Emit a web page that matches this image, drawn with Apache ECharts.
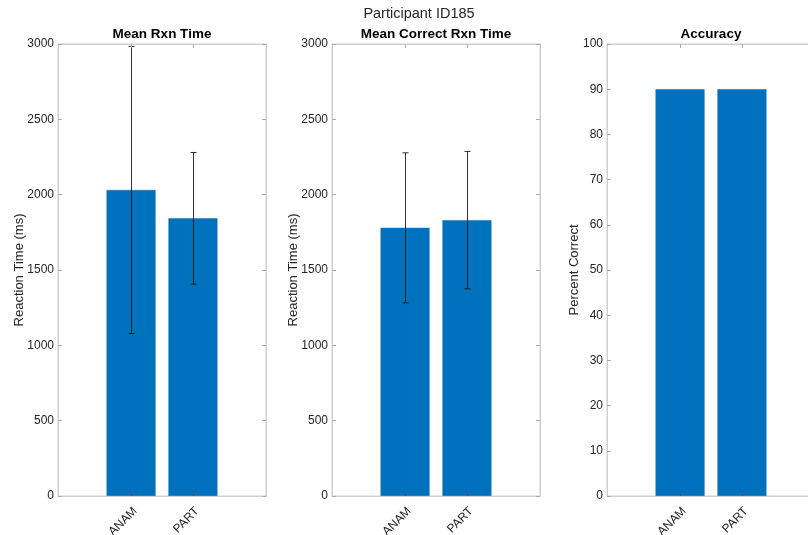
<!DOCTYPE html>
<html>
<head>
<meta charset="utf-8">
<script src="https://cdn.jsdelivr.net/npm/echarts@6/dist/echarts.min.js"></script>
<style>html,body{margin:0;padding:0;background:#fff}#c{width:808px;height:535px}</style>
</head>
<body>
<div id="c"></div>
<script>
const categories = ['ANAM', 'PART'];
const meanRxn = [2031, 1843];
const meanRxnErr = [953, 437];
const meanCorrect = [1780, 1831];
const meanCorrectErr = [498, 456];
const accuracy = [90, 90];
const panelTitles = ['Mean Rxn Time', 'Mean Correct Rxn Time', 'Accuracy'];
const yTitles = ['Reaction Time (ms)', 'Reaction Time (ms)', 'Percent Correct'];
const suptitle = 'Participant ID185';
const yMax = [3000, 3000, 100];
const yStep = [500, 500, 10];

const FONT = '"Liberation Sans", Arial, Helvetica, sans-serif';
const BOX = '#cfcfcf';
const TXT = '#262626';
const lefts = [58, 332, 607];
const gridW = 208;
const nameGaps = [32, 32, 26];

const chart = echarts.init(document.getElementById('c'), null, {renderer: 'canvas'});

const grids = [], xAxes = [], yAxes = [], series = [], titles = [];
const barData = [meanRxn, meanCorrect, accuracy];
const errData = [meanRxnErr, meanCorrectErr, null];

for (let i = 0; i < 3; i++) {
  grids.push({left: lefts[i], top: 44, width: gridW, height: 452, show: true, borderColor: BOX, borderWidth: 1,
    backgroundColor: '#fff', containLabel: false, outerBoundsMode: 'none'});
  const xBase = {
    gridIndex: i, type: 'value', min: -0.18, max: 3.18,
    splitLine: {show: false},
    axisLine: {show: true, onZero: false, lineStyle: {color: BOX}},
    z: 5
  };
  xAxes.push(Object.assign({}, xBase, {
    position: 'bottom',
    axisTick: {show: true, inside: true, length: 4, customValues: [1, 2], lineStyle: {color: '#555'}},
    axisLabel: {show: true, customValues: [1, 2], rotate: 45, fontSize: 12, fontFamily: FONT, color: TXT, margin: 9,
      verticalAlign: 'top',
      formatter: v => categories[Math.round(v) - 1] || ''}
  }));
  xAxes.push(Object.assign({}, xBase, {
    position: 'top',
    axisTick: {show: true, inside: true, length: 4, customValues: [1, 2], lineStyle: {color: '#aaa'}},
    axisLabel: {show: false}
  }));
  const yBase = {
    gridIndex: i, type: 'value', min: 0, max: yMax[i], interval: yStep[i],
    splitLine: {show: false},
    axisLine: {show: true, onZero: false, lineStyle: {color: BOX}},
    axisTick: {show: true, inside: true, length: 4, lineStyle: {color: '#aaa'}},
    z: 5
  };
  yAxes.push(Object.assign({}, yBase, {
    position: 'left',
    axisLabel: {show: true, fontSize: 12, fontFamily: FONT, color: TXT, margin: 4, formatter: v => String(v)},
    name: yTitles[i], nameLocation: 'middle', nameGap: nameGaps[i], nameRotate: 90, nameMoveOverlap: false,
    nameTextStyle: {fontSize: 13, fontFamily: FONT, color: TXT}
  }));
  yAxes.push(Object.assign({}, yBase, {position: 'right', axisLabel: {show: false}}));

  series.push({
    type: 'bar', xAxisIndex: 2 * i, yAxisIndex: 2 * i,
    data: barData[i].map((v, k) => [k + 1, v]),
    barWidth: 49,
    itemStyle: {color: '#0072BD', borderColor: '#1a66a8', borderWidth: 0.5},
    silent: true, z: 2
  });
  if (errData[i]) {
    series.push({
      type: 'custom', xAxisIndex: 2 * i, yAxisIndex: 2 * i, z: 3, silent: true,
      data: barData[i].map((v, k) => [k + 1, v, errData[i][k]]),
      renderItem: function (params, api) {
        const x = api.value(0), y = api.value(1), e = api.value(2);
        const hi = api.coord([x, y + e]);
        const lo = api.coord([x, y - e]);
        const cx = Math.round(hi[0]) + 0.5;
        const cw = 3;
        const st = {stroke: '#111', lineWidth: 1, opacity: 0.85};
        return {type: 'group', children: [
          {type: 'line', shape: {x1: cx, y1: hi[1], x2: cx, y2: lo[1]}, style: st},
          {type: 'line', shape: {x1: cx - cw, y1: hi[1], x2: cx + cw, y2: hi[1]}, style: st},
          {type: 'line', shape: {x1: cx - cw, y1: lo[1], x2: cx + cw, y2: lo[1]}, style: st}
        ]};
      }
    });
  }
  titles.push({
    text: panelTitles[i], left: lefts[i] + gridW / 2, top: 27, textAlign: 'center', padding: 0,
    textStyle: {fontSize: 13.5, fontWeight: 'bold', fontFamily: FONT, color: '#000'}
  });
}
titles.push({
  text: suptitle, left: 419, top: 6, textAlign: 'center', padding: 0,
  textStyle: {fontSize: 14.5, fontWeight: 'normal', fontFamily: FONT, color: TXT}
});

chart.setOption({
  animation: false,
  backgroundColor: '#fff',
  title: titles,
  grid: grids,
  xAxis: xAxes,
  yAxis: yAxes,
  series: series
});
</script>
</body>
</html>
